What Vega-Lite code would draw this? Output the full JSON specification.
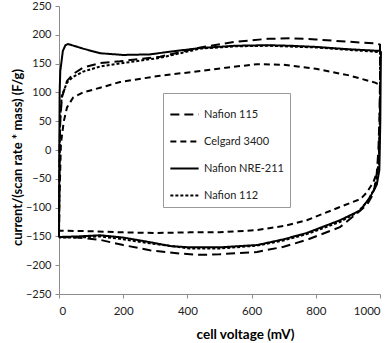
{
  "$schema": "https://vega.github.io/schema/vega-lite/v6.json",
  "width": 321,
  "height": 288,
  "autosize": {"type": "none"},
  "padding": {"left": 59, "top": 6, "right": 12, "bottom": 49},
  "background": "white",
  "config": {"view": {"stroke": null}, "font": "Lato"},
  "datasets": {
    "cv": [
      {"s": "Nafion 115", "mv": 0, "c": -151}, {"s": "Nafion 115", "mv": 2, "c": 0}, {"s": "Nafion 115", "mv": 4, "c": 51}, {"s": "Nafion 115", "mv": 9, "c": 91}, {"s": "Nafion 115", "mv": 25, "c": 120}, {"s": "Nafion 115", "mv": 44, "c": 132}, {"s": "Nafion 115", "mv": 75, "c": 143}, {"s": "Nafion 115", "mv": 128, "c": 151}, {"s": "Nafion 115", "mv": 190, "c": 154}, {"s": "Nafion 115", "mv": 315, "c": 162}, {"s": "Nafion 115", "mv": 440, "c": 178}, {"s": "Nafion 115", "mv": 550, "c": 188}, {"s": "Nafion 115", "mv": 650, "c": 193}, {"s": "Nafion 115", "mv": 720, "c": 194}, {"s": "Nafion 115", "mv": 800, "c": 192}, {"s": "Nafion 115", "mv": 900, "c": 188}, {"s": "Nafion 115", "mv": 990, "c": 185}, {"s": "Nafion 115", "mv": 1000, "c": 183}, {"s": "Nafion 115", "mv": 1000, "c": 120}, {"s": "Nafion 115", "mv": 998, "c": 50}, {"s": "Nafion 115", "mv": 995, "c": 0}, {"s": "Nafion 115", "mv": 990, "c": -40}, {"s": "Nafion 115", "mv": 980, "c": -75}, {"s": "Nafion 115", "mv": 960, "c": -95}, {"s": "Nafion 115", "mv": 928, "c": -110}, {"s": "Nafion 115", "mv": 875, "c": -134}, {"s": "Nafion 115", "mv": 772, "c": -156}, {"s": "Nafion 115", "mv": 700, "c": -168}, {"s": "Nafion 115", "mv": 617, "c": -177}, {"s": "Nafion 115", "mv": 500, "c": -181}, {"s": "Nafion 115", "mv": 440, "c": -182}, {"s": "Nafion 115", "mv": 380, "c": -180}, {"s": "Nafion 115", "mv": 283, "c": -174}, {"s": "Nafion 115", "mv": 200, "c": -165}, {"s": "Nafion 115", "mv": 128, "c": -156}, {"s": "Nafion 115", "mv": 60, "c": -152}, {"s": "Nafion 115", "mv": 0, "c": -151},

      {"s": "Celgard 3400", "mv": 0, "c": -140}, {"s": "Celgard 3400", "mv": 1, "c": -90}, {"s": "Celgard 3400", "mv": 3, "c": -53}, {"s": "Celgard 3400", "mv": 6, "c": 11}, {"s": "Celgard 3400", "mv": 15, "c": 50}, {"s": "Celgard 3400", "mv": 25, "c": 74}, {"s": "Celgard 3400", "mv": 44, "c": 91}, {"s": "Celgard 3400", "mv": 75, "c": 100}, {"s": "Celgard 3400", "mv": 128, "c": 108}, {"s": "Celgard 3400", "mv": 190, "c": 118}, {"s": "Celgard 3400", "mv": 315, "c": 129}, {"s": "Celgard 3400", "mv": 440, "c": 137}, {"s": "Celgard 3400", "mv": 520, "c": 143}, {"s": "Celgard 3400", "mv": 617, "c": 149}, {"s": "Celgard 3400", "mv": 700, "c": 148}, {"s": "Celgard 3400", "mv": 800, "c": 141}, {"s": "Celgard 3400", "mv": 900, "c": 130}, {"s": "Celgard 3400", "mv": 985, "c": 117}, {"s": "Celgard 3400", "mv": 1000, "c": 113}, {"s": "Celgard 3400", "mv": 1000, "c": 60}, {"s": "Celgard 3400", "mv": 997, "c": 0}, {"s": "Celgard 3400", "mv": 993, "c": -35}, {"s": "Celgard 3400", "mv": 980, "c": -55}, {"s": "Celgard 3400", "mv": 960, "c": -73}, {"s": "Celgard 3400", "mv": 940, "c": -85}, {"s": "Celgard 3400", "mv": 875, "c": -99}, {"s": "Celgard 3400", "mv": 772, "c": -122}, {"s": "Celgard 3400", "mv": 700, "c": -132}, {"s": "Celgard 3400", "mv": 617, "c": -139}, {"s": "Celgard 3400", "mv": 500, "c": -143}, {"s": "Celgard 3400", "mv": 408, "c": -143}, {"s": "Celgard 3400", "mv": 300, "c": -144}, {"s": "Celgard 3400", "mv": 200, "c": -143}, {"s": "Celgard 3400", "mv": 100, "c": -141}, {"s": "Celgard 3400", "mv": 0, "c": -140},

      {"s": "Nafion NRE-211", "mv": 0, "c": -151}, {"s": "Nafion NRE-211", "mv": 1, "c": 0}, {"s": "Nafion NRE-211", "mv": 2, "c": 100}, {"s": "Nafion NRE-211", "mv": 4, "c": 137}, {"s": "Nafion NRE-211", "mv": 12, "c": 172}, {"s": "Nafion NRE-211", "mv": 20, "c": 182}, {"s": "Nafion NRE-211", "mv": 28, "c": 184}, {"s": "Nafion NRE-211", "mv": 40, "c": 182}, {"s": "Nafion NRE-211", "mv": 75, "c": 176}, {"s": "Nafion NRE-211", "mv": 128, "c": 168}, {"s": "Nafion NRE-211", "mv": 200, "c": 165}, {"s": "Nafion NRE-211", "mv": 283, "c": 166}, {"s": "Nafion NRE-211", "mv": 350, "c": 171}, {"s": "Nafion NRE-211", "mv": 440, "c": 177}, {"s": "Nafion NRE-211", "mv": 550, "c": 181}, {"s": "Nafion NRE-211", "mv": 650, "c": 182}, {"s": "Nafion NRE-211", "mv": 720, "c": 181}, {"s": "Nafion NRE-211", "mv": 800, "c": 179}, {"s": "Nafion NRE-211", "mv": 900, "c": 175}, {"s": "Nafion NRE-211", "mv": 1000, "c": 172}, {"s": "Nafion NRE-211", "mv": 1003, "c": 170}, {"s": "Nafion NRE-211", "mv": 1002, "c": 120}, {"s": "Nafion NRE-211", "mv": 1001, "c": 51}, {"s": "Nafion NRE-211", "mv": 998, "c": -35}, {"s": "Nafion NRE-211", "mv": 990, "c": -60}, {"s": "Nafion NRE-211", "mv": 969, "c": -82}, {"s": "Nafion NRE-211", "mv": 938, "c": -105}, {"s": "Nafion NRE-211", "mv": 875, "c": -122}, {"s": "Nafion NRE-211", "mv": 772, "c": -144}, {"s": "Nafion NRE-211", "mv": 700, "c": -155}, {"s": "Nafion NRE-211", "mv": 617, "c": -165}, {"s": "Nafion NRE-211", "mv": 500, "c": -169}, {"s": "Nafion NRE-211", "mv": 408, "c": -169}, {"s": "Nafion NRE-211", "mv": 350, "c": -167}, {"s": "Nafion NRE-211", "mv": 283, "c": -160}, {"s": "Nafion NRE-211", "mv": 200, "c": -152}, {"s": "Nafion NRE-211", "mv": 128, "c": -148}, {"s": "Nafion NRE-211", "mv": 60, "c": -150}, {"s": "Nafion NRE-211", "mv": 0, "c": -151},

      {"s": "Nafion 112", "mv": 0, "c": -152}, {"s": "Nafion 112", "mv": 2, "c": 0}, {"s": "Nafion 112", "mv": 4, "c": 60}, {"s": "Nafion 112", "mv": 9, "c": 95}, {"s": "Nafion 112", "mv": 25, "c": 117}, {"s": "Nafion 112", "mv": 44, "c": 127}, {"s": "Nafion 112", "mv": 75, "c": 136}, {"s": "Nafion 112", "mv": 128, "c": 145}, {"s": "Nafion 112", "mv": 200, "c": 151}, {"s": "Nafion 112", "mv": 315, "c": 160}, {"s": "Nafion 112", "mv": 440, "c": 176}, {"s": "Nafion 112", "mv": 550, "c": 180}, {"s": "Nafion 112", "mv": 650, "c": 181}, {"s": "Nafion 112", "mv": 800, "c": 178}, {"s": "Nafion 112", "mv": 900, "c": 174}, {"s": "Nafion 112", "mv": 1000, "c": 170}, {"s": "Nafion 112", "mv": 1000, "c": 100}, {"s": "Nafion 112", "mv": 999, "c": 30}, {"s": "Nafion 112", "mv": 996, "c": -30}, {"s": "Nafion 112", "mv": 985, "c": -65}, {"s": "Nafion 112", "mv": 960, "c": -90}, {"s": "Nafion 112", "mv": 930, "c": -108}, {"s": "Nafion 112", "mv": 875, "c": -125}, {"s": "Nafion 112", "mv": 772, "c": -146}, {"s": "Nafion 112", "mv": 700, "c": -157}, {"s": "Nafion 112", "mv": 617, "c": -166}, {"s": "Nafion 112", "mv": 500, "c": -171}, {"s": "Nafion 112", "mv": 408, "c": -171}, {"s": "Nafion 112", "mv": 283, "c": -162}, {"s": "Nafion 112", "mv": 200, "c": -155}, {"s": "Nafion 112", "mv": 128, "c": -150}, {"s": "Nafion 112", "mv": 60, "c": -152}, {"s": "Nafion 112", "mv": 0, "c": -152}
    ]
  },
  "data": {"name": "cv"},
  "mark": {"type": "line", "color": "black", "strokeWidth": 2, "clip": false},
  "encoding": {
    "x": {
      "field": "mv", "type": "quantitative",
      "scale": {"domain": [0, 1000], "nice": false},
      "axis": {
        "title": "cell voltage (mV)", "values": [0, 200, 400, 600, 800, 1000], "format": "d",
        "grid": false, "domainColor": "#8c8c8c", "tickColor": "#8c8c8c", "tickSize": 4,
        "labelFont": "Lato", "labelFontSize": 11.5, "labelColor": "#222", "labelPadding": 7,
        "titleFont": "Lato", "titleFontSize": 13.5, "titleFontWeight": "bold", "titleColor": "black",
        "titleX": 186, "titleY": 44, "titleBaseline": "alphabetic"
      }
    },
    "y": {
      "field": "c", "type": "quantitative",
      "scale": {"domain": [-250, 250], "nice": false},
      "axis": {
        "title": "current/(scan rate * mass) (F/g)", "values": [-250, -200, -150, -100, -50, 0, 50, 100, 150, 200, 250],
        "grid": false, "domainColor": "#8c8c8c", "tickColor": "#8c8c8c", "tickSize": 4,
        "labelFont": "Lato", "labelFontSize": 11, "labelColor": "#222", "labelPadding": 4,
        "titleFont": "Lato", "titleFontSize": 13, "titleFontWeight": "bold", "titleColor": "black",
        "titleX": -38, "titleY": 151, "titleBaseline": "alphabetic"
      }
    },
    "strokeDash": {
      "field": "s", "type": "nominal",
      "scale": {
        "domain": ["Nafion 115", "Celgard 3400", "Nafion NRE-211", "Nafion 112"],
        "range": [[9, 5], [6, 4], [1, 0], [3, 2]]
      },
      "legend": {
        "title": null, "orient": "none", "legendX": 104, "legendY": 87,
        "strokeColor": "#999", "fillColor": "white", "padding": 6,
        "symbolType": "stroke", "symbolSize": 800, "symbolStrokeWidth": 2, "symbolStrokeColor": "black",
        "labelFont": "Lato", "labelFontSize": 11, "labelColor": "#222", "labelOffset": 4, "rowPadding": 6
      }
    },
    "order": {"value": null}
  }
}
